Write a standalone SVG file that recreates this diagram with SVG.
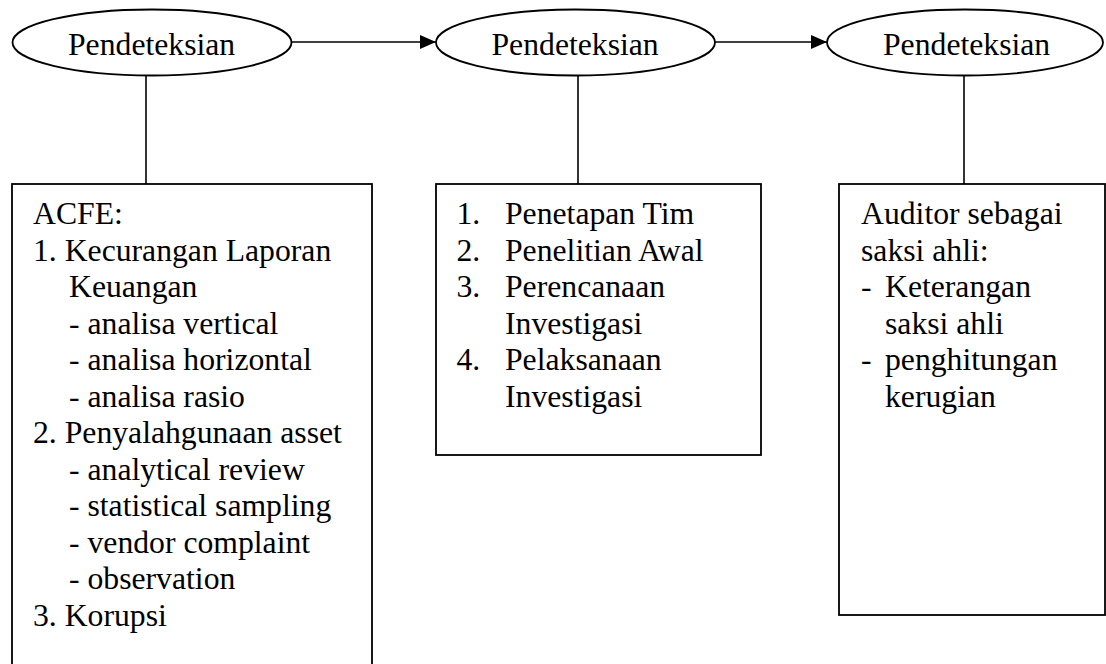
<svg xmlns="http://www.w3.org/2000/svg" width="1106" height="664" viewBox="0 0 1106 664">
<style>
.shape{fill:#fff;stroke:#000;stroke-width:1.8}
.conn{fill:none;stroke:#000;stroke-width:1.6}
text{font-family:"Liberation Serif","Times New Roman",serif;font-size:31.7px;fill:#000}
</style>
<defs>
<marker id="arr" markerWidth="16" markerHeight="14" refX="16" refY="7" orient="auto" markerUnits="userSpaceOnUse">
<path d="M0,0 L16,7 L0,14 Z" fill="#000"/>
</marker>
</defs>
<rect width="1106" height="664" fill="#fff"/>
<g id="connectors">
<line class="conn" x1="291" y1="42" x2="436" y2="42" marker-end="url(#arr)"/>
<line class="conn" x1="715" y1="42" x2="827" y2="42" marker-end="url(#arr)"/>
<line class="conn" x1="146" y1="76" x2="146" y2="184"/>
<line class="conn" x1="578" y1="76" x2="578" y2="184"/>
<line class="conn" x1="964" y1="76" x2="964" y2="184"/>
</g>
<g id="node-ellipse1">
<ellipse class="shape" cx="152" cy="42.5" rx="139.5" ry="33"/>
<text x="68" y="55">Pendeteksian</text>
</g>
<g id="node-ellipse2">
<ellipse class="shape" cx="575.5" cy="42.5" rx="139.5" ry="33"/>
<text x="491.5" y="55">Pendeteksian</text>
</g>
<g id="node-ellipse3">
<ellipse class="shape" cx="965" cy="42.5" rx="138" ry="33"/>
<text x="883" y="55">Pendeteksian</text>
</g>
<g id="node-box1">
<rect class="shape" x="12" y="184" width="360" height="500"/>
<text x="33" y="224">ACFE:</text>
<text x="33" y="260.5">1. Kecurangan Laporan</text>
<text x="69" y="297">Keuangan</text>
<text x="69" y="333.5">- analisa vertical</text>
<text x="69" y="370">- analisa horizontal</text>
<text x="69" y="406.5">- analisa rasio</text>
<text x="33" y="443">2. Penyalahgunaan asset</text>
<text x="69" y="479.5">- analytical review</text>
<text x="69" y="516">- statistical sampling</text>
<text x="69" y="552.5">- vendor complaint</text>
<text x="69" y="589">- observation</text>
<text x="33" y="625.5">3. Korupsi</text>
</g>
<g id="node-box2">
<rect class="shape" x="436" y="184" width="325" height="271"/>
<text x="456.5" y="224">1.</text><text x="505" y="224">Penetapan Tim</text>
<text x="456.5" y="260.5">2.</text><text x="505" y="260.5">Penelitian Awal</text>
<text x="456.5" y="297">3.</text><text x="505" y="297">Perencanaan</text>
<text x="505" y="333.5">Investigasi</text>
<text x="456.5" y="370">4.</text><text x="505" y="370">Pelaksanaan</text>
<text x="505" y="406.5">Investigasi</text>
</g>
<g id="node-box3">
<rect class="shape" x="839" y="184" width="266" height="431"/>
<text x="861" y="224">Auditor sebagai</text>
<text x="861" y="260.5">saksi ahli:</text>
<text x="861" y="297">-</text><text x="885" y="297">Keterangan</text>
<text x="885" y="333.5">saksi ahli</text>
<text x="861" y="370">-</text><text x="885" y="370">penghitungan</text>
<text x="885" y="406.5">kerugian</text>
</g>
</svg>
